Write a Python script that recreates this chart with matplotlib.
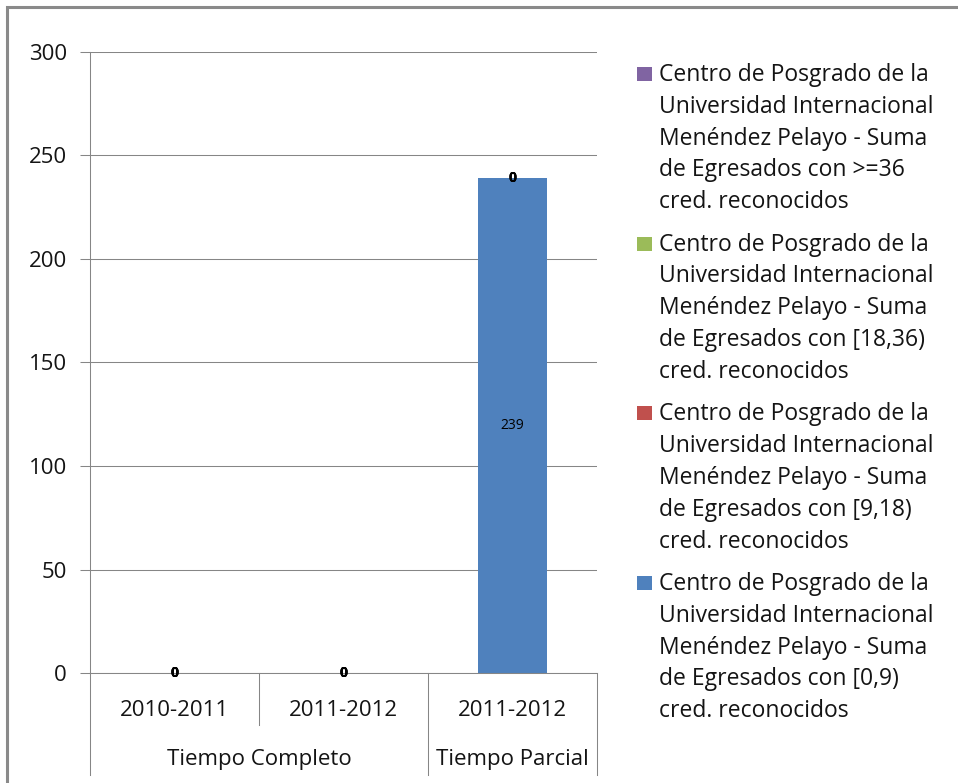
import matplotlib
matplotlib.use("Agg")
import matplotlib.pyplot as plt
from matplotlib.patches import Rectangle
import numpy as np

plt.rcParams['font.family'] = ['Open Sans', 'DejaVu Sans']

years = ["2010-2011", "2011-2012", "2011-2012"]
groups = ["Tiempo Completo", "Tiempo Parcial"]
group_sizes = [2, 1]
series_names = [
    "Centro de Posgrado de la\nUniversidad Internacional\nMenéndez Pelayo - Suma\nde Egresados con [0,9)\ncred. reconocidos",
    "Centro de Posgrado de la\nUniversidad Internacional\nMenéndez Pelayo - Suma\nde Egresados con [9,18)\ncred. reconocidos",
    "Centro de Posgrado de la\nUniversidad Internacional\nMenéndez Pelayo - Suma\nde Egresados con [18,36)\ncred. reconocidos",
    "Centro de Posgrado de la\nUniversidad Internacional\nMenéndez Pelayo - Suma\nde Egresados con >=36\ncred. reconocidos",
]
series_values = [
    [0, 0, 239],
    [0, 0, 0],
    [0, 0, 0],
    [0, 0, 0],
]
colors = ["#4F81BD", "#C0504D", "#9BBB59", "#8064A2"]
yticks = [0, 50, 100, 150, 200, 250, 300]

W, H = 958, 783
fig = plt.figure(figsize=(W/100, H/100), dpi=100)
ax = fig.add_axes([90/W, 1-673/H, (597-90)/W, (673-52)/H])

grid_c = "#868686"
txt_c = "#141414"
x = np.arange(len(years))
bottom = np.zeros(len(years))
for vals, col in zip(series_values, colors):
    vals = np.array(vals, dtype=float)
    c = ax.bar(x, vals, 0.405, bottom=bottom, color=col, zorder=3)
    for rect, v, b in zip(c, vals, bottom):
        cx = rect.get_x() + rect.get_width()/2
        cy = b + v/2
        ax.text(cx, cy, str(int(v)), ha='center', va='center',
                fontsize=10, fontweight='bold' if v == 0 else 'normal',
                color='black', zorder=5)
    bottom = bottom + vals

ax.set_xlim(-0.5, 2.5)
ax.set_ylim(0, 300)
ax.set_yticks(yticks)
ax.set_yticklabels([str(t) for t in yticks], fontsize=16, color=txt_c)
ax.tick_params(axis='y', length=7.2, width=0.75, color=grid_c, pad=9.4)
ax.set_xticks([])
ax.yaxis.grid(True, color=grid_c, linewidth=0.75, zorder=0)
ax.set_axisbelow(True)
for s in ['top', 'right']:
    ax.spines[s].set_visible(False)
ax.spines['left'].set_color(grid_c)
ax.spines['bottom'].set_color(grid_c)
ax.spines['left'].set_linewidth(0.75)
ax.spines['bottom'].set_linewidth(0.75)
ax.spines['bottom'].set_zorder(4)

# multi-level category axis
tr = ax.get_xaxis_transform()
h1 = -(725-673)/621
h2 = -(775-673)/621
for xx, hh in [(-0.5, h2), (0.5, h1), (1.5, h2), (2.5, h2)]:
    ax.plot([xx, xx], [0, hh], transform=tr, color=grid_c, lw=0.75, clip_on=False)
for xi, lab in zip(x, years):
    ax.text(xi, -(711-673)/621, lab, transform=tr, ha='center', va='center',
            fontsize=16, color=txt_c)
start = 0
for g, n in zip(groups, group_sizes):
    cx = start + (n-1)/2
    ax.text(cx, -(760-673)/621, g, transform=tr, ha='center', va='center',
            fontsize=16, color=txt_c)
    start += n

# legend (reverse order, square aligned with first line)
entry_step = 169.7
line_step = 31.8
for i, (name, col) in enumerate(zip(series_names[::-1], colors[::-1])):
    base = 81 + i*entry_step
    fig.patches.append(Rectangle((637/W, 1-(base)/H), 15/W, 14/H,
                                 transform=fig.transFigure, facecolor=col,
                                 edgecolor='none'))
    for j, line in enumerate(name.split("\n")):
        fig.text(659/W, 1-(base + j*line_step)/H, line, ha='left',
                 va='baseline', fontsize=16.5, color=txt_c)

# outer frame
fig.patches.append(Rectangle((7/W, -0.1), 1.2, 1 - 7/H + 0.1,
                             transform=fig.transFigure, fill=False,
                             edgecolor="#8a8a8a", linewidth=2.2))

fig.savefig("out.png", dpi=100)
